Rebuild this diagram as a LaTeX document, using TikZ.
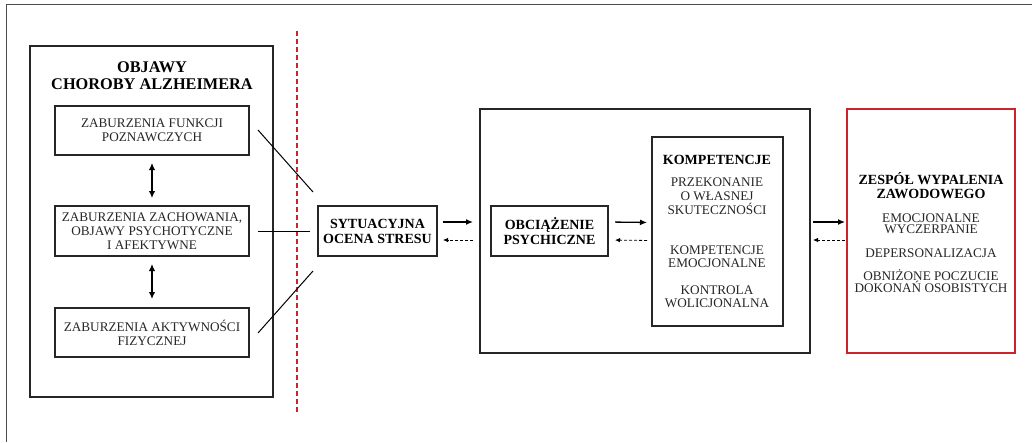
\documentclass[tikz,border=0pt]{standalone}
\usepackage{fontspec}
\setmainfont{Liberation Serif}
\usepackage{tikz}
\usetikzlibrary{arrows.meta}
\definecolor{burnred}{RGB}{205,35,45}

\begin{document}
\begin{tikzpicture}[
x=1pt, y=-1pt,
   frame/.style = {draw=black!85, line width=1.8pt, outer sep=0pt,
                   inner sep=0pt},% big boxes
     box/.style = {rectangle, draw=black!85, line width=1.2pt,
                   outer sep=0pt, inner sep=0pt, align=center,
                   text=black!85, font=\fontsize{13.2}{13.8}\selectfont},
    hbox/.style = {box, text=black,
                   font=\bfseries\fontsize{14}{15}\selectfont},
     txt/.style = {align=center, inner sep=0pt, text=black!85,
                   font=\fontsize{13.2}{#1}\selectfont},
     txt/.default = 13.5,
    head/.style = {align=center, inner sep=0pt,
                   font=\bfseries\fontsize{14}{#1}\selectfont},
    head/.default = 14,
     arr/.style = {line width=1.3pt, -{Latex[length=7pt,width=6pt]}},
    darr/.style = {line width=0.8pt, dash pattern=on 3pt off 2pt,
                   -{Latex[length=5pt,width=4.5pt]}},
                        ]
\useasboundingbox (0,0) rectangle (1032,442);
\draw[black!70, line width=1pt] (6,442) -- (6,4) -- (1032,4);
% left part
\node[frame, minimum width=243pt, minimum height=351pt] (objawy) at (151.5,221.5) {};
\node[align=center, inner sep=0pt, font=\bfseries\fontsize{16.3}{17}\selectfont]
     (objT) at (152,75.5) {OBJAWY\\CHOROBY ALZHEIMERA};
\node[box, minimum width=194pt, minimum height=49pt] (zab1) at (152,130.5)
     {ZABURZENIA FUNKCJI\\POZNAWCZYCH};
\node[box, minimum width=194pt, minimum height=50pt] (zab2) at (152,231)
     {ZABURZENIA ZACHOWANIA,\\OBJAWY PSYCHOTYCZNE\\I AFEKTYWNE};
\node[box, minimum width=194pt, minimum height=49pt] (zab3) at (152,332.5)
     {ZABURZENIA AKTYWNOŚCI\\FIZYCZNEJ};
\draw[line width=1.5pt, {Latex[length=7pt,width=6.5pt]}-{Latex[length=7pt,width=6.5pt]},
      shorten <=8pt, shorten >=8pt] (zab1) -- (zab2);
\draw[line width=1.5pt, {Latex[length=7pt,width=6.5pt]}-{Latex[length=7pt,width=6.5pt]},
      shorten <=8pt, shorten >=9pt] (zab2) -- (zab3);
\draw[burnred, line width=1.5pt, dash pattern=on 5pt off 3pt] (297,31) -- (297,413);
% stress
\node[hbox, minimum width=119pt, minimum height=50pt] (sytu) at (377.5,231)
     {SYTUACYJNA\\OCENA STRESU};
\coordinate (l1) at (313,192);
\coordinate (l2) at (310,231);
\coordinate (l3) at (313,271);
\draw[line width=1pt] ([xshift=9pt,yshift=0.5pt]zab1.east) -- (l1);
\draw[line width=1pt] ([xshift=9pt]zab2.east) -- (l2);
\draw[line width=1pt] ([xshift=9pt,yshift=-0.5pt]zab3.east) -- (l3);
% strain and competences
\node[frame, minimum width=330pt, minimum height=244pt] (mid) at (645,231) {};
\node[hbox, minimum width=117pt, minimum height=50pt] (obc) at (549.5,231)
     {OBCIĄŻENIE\\PSYCHICZNE};
\node[box, minimum width=131pt, minimum height=189pt] (komp) at (717.5,231.5) {};
\node[head] (kompT) at (717,160) {KOMPETENCJE};
\node[txt=14] (komp1) at (717,196) {PRZEKONANIE\\O WŁASNEJ\\SKUTECZNOŚCI};
\node[txt=13] (komp2) at (717,256.5) {KOMPETENCJE\\EMOCJONALNE};
\node[txt=13] (komp3) at (717,296.5) {KONTROLA\\WOLICJONALNA};
% burnout
\node[frame, draw=burnred, minimum width=168pt, minimum height=244pt] (zesp) at (931,231) {};
\node[head] (zespT) at (931,186) {ZESPÓŁ WYPALENIA\\ZAWODOWEGO};
\node[txt=11.5] (zesp1) at (931,223.5) {EMOCJONALNE\\WYCZERPANIE};
\node[txt] (zesp2) at (931,253) {DEPERSONALIZACJA};
\node[txt=12] (zesp3) at (931,281) {OBNIŻONE POCZUCIE\\DOKONAŃ OSOBISTYCH};
% arrows between stages
\foreach \a/\b/\s/\e in {sytu/mid/6/7, obc/komp/7/5, mid/zesp/3/2}{
    \draw[arr, shorten <=\s pt, shorten >=\e pt]
         ([yshift=9pt]\a.east) -- ([yshift=9pt]\b.west);
    \draw[darr, shorten <=\e pt, shorten >=\s pt]
         ([yshift=-9pt]\b.west) -- ([yshift=-9pt]\a.east);
}
\end{tikzpicture}
\end{document}
